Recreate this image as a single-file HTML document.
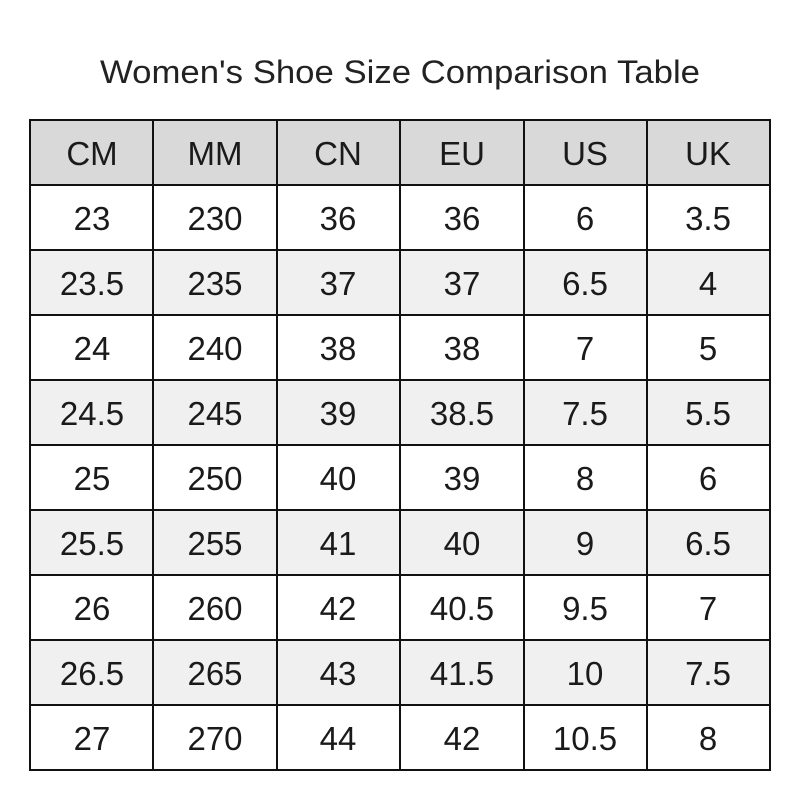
<!DOCTYPE html>
<html><head><style>
html,body{margin:0;padding:0;background:#fff;}
</style></head><body>
<svg width="800" height="800" xmlns="http://www.w3.org/2000/svg" style="display:block">
<rect width="800" height="800" fill="#fff"/>
<text x="100" y="83" textLength="600" lengthAdjust="spacingAndGlyphs" font-family="Liberation Sans, sans-serif" font-size="32" fill="#222">Women's Shoe Size Comparison Table</text>
<rect x="30" y="120" width="740" height="65" fill="#d9d9d9"/>
<rect x="30" y="250" width="740" height="65" fill="#f0f0f0"/>
<rect x="30" y="380" width="740" height="65" fill="#f0f0f0"/>
<rect x="30" y="510" width="740" height="65" fill="#f0f0f0"/>
<rect x="30" y="640" width="740" height="65" fill="#f0f0f0"/>
<g stroke="#111" stroke-width="2" fill="none">
<rect x="30" y="120" width="740" height="650"/>
<path d="M153 120V770M277 120V770M400 120V770M524 120V770M647 120V770"/>
<path d="M30 185H770M30 250H770M30 315H770M30 380H770M30 445H770M30 510H770M30 575H770M30 640H770M30 705H770"/>
</g>
<g font-family="Liberation Sans, sans-serif" font-size="33" fill="#1a1a1a" text-anchor="middle">
<g transform="translate(0,165)"><text x="92">CM</text><text x="215">MM</text><text x="338">CN</text><text x="462">EU</text><text x="585">US</text><text x="708">UK</text></g>
<g transform="translate(0,230)"><text x="92">23</text><text x="215">230</text><text x="338">36</text><text x="462">36</text><text x="585">6</text><text x="708">3.5</text></g>
<g transform="translate(0,295)"><text x="92">23.5</text><text x="215">235</text><text x="338">37</text><text x="462">37</text><text x="585">6.5</text><text x="708">4</text></g>
<g transform="translate(0,360)"><text x="92">24</text><text x="215">240</text><text x="338">38</text><text x="462">38</text><text x="585">7</text><text x="708">5</text></g>
<g transform="translate(0,425)"><text x="92">24.5</text><text x="215">245</text><text x="338">39</text><text x="462">38.5</text><text x="585">7.5</text><text x="708">5.5</text></g>
<g transform="translate(0,490)"><text x="92">25</text><text x="215">250</text><text x="338">40</text><text x="462">39</text><text x="585">8</text><text x="708">6</text></g>
<g transform="translate(0,555)"><text x="92">25.5</text><text x="215">255</text><text x="338">41</text><text x="462">40</text><text x="585">9</text><text x="708">6.5</text></g>
<g transform="translate(0,620)"><text x="92">26</text><text x="215">260</text><text x="338">42</text><text x="462">40.5</text><text x="585">9.5</text><text x="708">7</text></g>
<g transform="translate(0,685)"><text x="92">26.5</text><text x="215">265</text><text x="338">43</text><text x="462">41.5</text><text x="585">10</text><text x="708">7.5</text></g>
<g transform="translate(0,750)"><text x="92">27</text><text x="215">270</text><text x="338">44</text><text x="462">42</text><text x="585">10.5</text><text x="708">8</text></g>
</g>
</svg>
</body></html>
